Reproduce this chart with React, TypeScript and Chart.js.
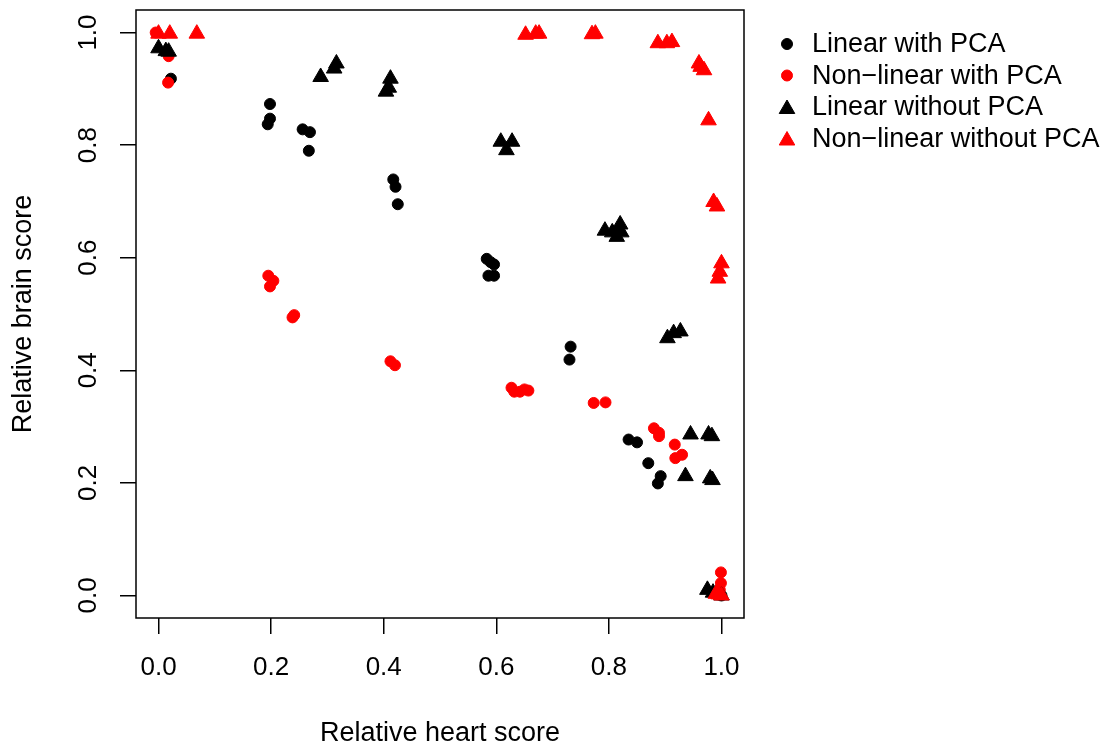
import React, { useEffect, useRef } from 'react';
import { Chart, registerables } from 'chart.js';

Chart.register(...registerables);

const FONT = '"Liberation Sans", Arial, Helvetica, sans-serif';

const xTickValues = [0, 0.2, 0.4, 0.6, 0.8, 1.0];
const yTickValues = [0, 0.2, 0.4, 0.6, 0.8, 1.0];
const xTitle = 'Relative heart score';
const yTitle = 'Relative brain score';

const seriesLabels = ['Linear with PCA', 'Non\u2212linear with PCA', 'Linear without PCA', 'Non\u2212linear without PCA'];
const seriesColors = ['#000000', '#ff0000', '#000000', '#ff0000'];
const seriesShapes = ['circle', 'circle', 'triangle', 'triangle'];

// Linear with PCA
const linPcaX = [0.022, 0.198, 0.198, 0.194, 0.256, 0.269, 0.267, 0.417, 0.421, 0.425, 0.583, 0.590, 0.596, 0.586, 0.596, 0.732, 0.730, 0.835, 0.850, 0.870, 0.892, 0.887, 1.0];
const linPcaY = [0.918, 0.873, 0.847, 0.837, 0.828, 0.823, 0.790, 0.739, 0.726, 0.695, 0.598, 0.592, 0.588, 0.568, 0.568, 0.442, 0.419, 0.277, 0.272, 0.235, 0.212, 0.199, 0.0];

// Non-linear with PCA
const nlPcaX = [-0.005, 0.018, 0.017, 0.195, 0.204, 0.198, 0.241, 0.238, 0.412, 0.420, 0.627, 0.632, 0.642, 0.650, 0.657, 0.773, 0.794, 0.880, 0.889, 0.889, 0.917, 0.930, 0.918, 0.999, 0.999, 0.997, 0.993];
const nlPcaY = [1.0, 0.958, 0.911, 0.568, 0.559, 0.549, 0.498, 0.494, 0.416, 0.409, 0.369, 0.362, 0.362, 0.366, 0.364, 0.342, 0.343, 0.297, 0.289, 0.283, 0.268, 0.250, 0.244, 0.041, 0.022, 0.010, 0.002];

// Linear without PCA
const linNoX = [0.0, 0.013, 0.018, 0.288, 0.312, 0.316, 0.404, 0.409, 0.412, 0.608, 0.618, 0.628, 0.793, 0.806, 0.814, 0.820, 0.822, 0.904, 0.915, 0.927, 0.945, 0.977, 0.983, 0.936, 0.980, 0.984, 0.975, 0.985, 1.0];
const linNoY = [0.972, 0.967, 0.966, 0.921, 0.936, 0.945, 0.895, 0.902, 0.918, 0.806, 0.791, 0.806, 0.648, 0.645, 0.637, 0.659, 0.645, 0.457, 0.466, 0.469, 0.286, 0.286, 0.283, 0.212, 0.208, 0.205, 0.010, 0.005, 0.0];

// Non-linear without PCA
const nlNoX = [0.0, 0.02, 0.068, 0.652, 0.670, 0.676, 0.770, 0.776, 0.887, 0.903, 0.912, 0.960, 0.963, 0.969, 0.977, 0.986, 0.992, 1.0, 0.997, 0.994, 0.99, 0.995, 1.0];
const nlNoY = [0.998, 0.998, 0.998, 0.996, 0.998, 0.998, 0.997, 0.998, 0.981, 0.981, 0.983, 0.945, 0.939, 0.933, 0.844, 0.699, 0.691, 0.590, 0.575, 0.563, 0.003, 0.002, 0.0];

const seriesX = [linPcaX, nlPcaX, linNoX, nlNoX];
const seriesY = [linPcaY, nlPcaY, linNoY, nlNoY];

const CIRCLE_R = 5.5;
const TRI_R = 9;

function drawShape(ctx: CanvasRenderingContext2D, shape: string, x: number, y: number, color: string) {
  ctx.save();
  ctx.fillStyle = color;
  ctx.strokeStyle = color;
  ctx.lineWidth = 1;
  ctx.beginPath();
  if (shape === 'circle') {
    ctx.arc(x, y, CIRCLE_R, 0, Math.PI * 2);
  } else {
    let rad = 0;
    for (let i = 0; i < 3; i++) {
      const px = x + Math.sin(rad) * TRI_R;
      const py = y - Math.cos(rad) * TRI_R;
      if (i === 0) ctx.moveTo(px, py); else ctx.lineTo(px, py);
      rad += (2 * Math.PI) / 3;
    }
    ctx.closePath();
  }
  ctx.fill();
  ctx.stroke();
  ctx.restore();
}

const decorPlugin = {
  id: 'rDecor',
  afterDraw(chart: any) {
    const ctx: CanvasRenderingContext2D = chart.ctx;
    const area = chart.chartArea;
    // box
    ctx.save();
    ctx.strokeStyle = '#000';
    ctx.lineWidth = 1.5;
    ctx.strokeRect(area.left, area.top, area.right - area.left, area.bottom - area.top);
    ctx.restore();

    // y tick labels (rotated like R)
    const yScale = chart.scales.y;
    ctx.save();
    ctx.fillStyle = '#000';
    ctx.font = `26px ${FONT}`;
    ctx.textAlign = 'center';
    ctx.textBaseline = 'middle';
    yScale.ticks.forEach((t: any) => {
      const py = yScale.getPixelForValue(t.value);
      ctx.save();
      ctx.translate(88, py);
      ctx.rotate(-Math.PI / 2);
      ctx.fillText(Number(t.value).toFixed(1), 0, 1);
      ctx.restore();
    });
    ctx.restore();

    // legend
    const lx = 787;
    const tx = 812;
    const y0 = 44;
    const dy = 31.5;
    ctx.save();
    ctx.font = `27px ${FONT}`;
    ctx.textAlign = 'left';
    ctx.textBaseline = 'middle';
    ctx.fillStyle = '#000';
    seriesLabels.forEach((lab, i) => {
      const yy = y0 + i * dy;
      drawShape(ctx, seriesShapes[i], lx, seriesShapes[i] === 'triangle' ? yy + 2 : yy, seriesColors[i]);
      ctx.fillStyle = '#000';
      ctx.fillText(lab, tx, yy + 1);
    });
    ctx.restore();
  },
};

export default function App() {
  const canvasRef = useRef<HTMLCanvasElement | null>(null);

  useEffect(() => {
    const canvas = canvasRef.current;
    if (!canvas) return;
    const datasets = seriesLabels.map((label, i) => ({
      label,
      data: seriesX[i].map((x, j) => ({ x, y: seriesY[i][j] })),
      pointStyle: seriesShapes[i],
      pointRadius: seriesShapes[i] === 'circle' ? CIRCLE_R : TRI_R,
      pointBackgroundColor: seriesColors[i],
      pointBorderColor: seriesColors[i],
      pointBorderWidth: 1,
      showLine: false,
      order: 3 - i,
    }));

    const chart = new Chart(canvas, {
      type: 'scatter',
      data: { datasets },
      options: {
        responsive: false,
        animation: false,
        devicePixelRatio: 1,
        events: [],
        layout: { padding: { left: 0, right: 364, top: 10, bottom: 0 } },
        plugins: {
          legend: { display: false },
          tooltip: { enabled: false },
        },
        scales: {
          x: {
            type: 'linear',
            min: -0.04,
            max: 1.04,
            afterBuildTicks: (scale: any) => {
              scale.ticks = xTickValues.map((v) => ({ value: v }));
            },
            afterFit: (scale: any) => {
              scale.height = 128;
            },
            border: { display: false },
            grid: {
              drawOnChartArea: false,
              drawTicks: true,
              tickLength: 16,
              color: '#000',
              lineWidth: 1.5,
            },
            ticks: {
              color: '#000',
              font: { family: FONT, size: 26 },
              padding: 18,
              maxRotation: 0,
              minRotation: 0,
              callback: (v: any) => Number(v).toFixed(1),
            },
            title: {
              display: true,
              text: xTitle,
              color: '#000',
              font: { family: FONT, size: 27 },
              padding: { top: 0, bottom: -4 },
            },
          },
          y: {
            type: 'linear',
            min: -0.04,
            max: 1.04,
            afterBuildTicks: (scale: any) => {
              scale.ticks = yTickValues.map((v) => ({ value: v }));
            },
            afterFit: (scale: any) => {
              scale.width = 136;
            },
            border: { display: false },
            grid: {
              drawOnChartArea: false,
              drawTicks: true,
              tickLength: 16,
              color: '#000',
              lineWidth: 1.5,
            },
            ticks: { display: false },
            title: {
              display: true,
              text: yTitle,
              color: '#000',
              font: { family: FONT, size: 27 },
              padding: { top: 7, bottom: 0 },
            },
          },
        },
      },
      plugins: [decorPlugin],
    } as any);

    return () => {
      chart.destroy();
    };
  }, []);

  return (
    <div style={{ position: 'absolute', left: 0, top: 0, width: 1108, height: 746, background: '#fff' }}>
      <canvas ref={canvasRef} width={1108} height={746} style={{ display: 'block', width: 1108, height: 746 }} />
    </div>
  );
}
